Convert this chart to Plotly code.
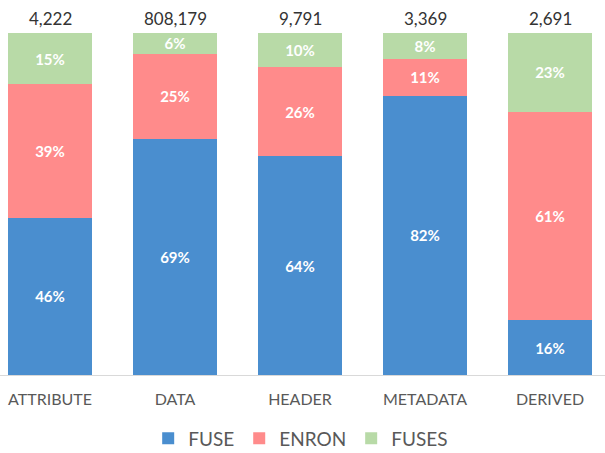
import plotly.graph_objects as go

categories = ["ATTRIBUTE", "DATA", "HEADER", "METADATA", "DERIVED"]
totals = ["4,222", "808,179", "9,791", "3,369", "2,691"]
fuse = [46, 69, 64, 81.6, 16]
enron = [39, 25, 26, 10.8, 61]
fuses = [15, 6, 10, 7.6, 23]

series = [("FUSE", fuse, "#4A8ECF"), ("ENRON", enron, "#FF8B8B"), ("FUSES", fuses, "#B8DAA7")]

FONT = "Lato"

fig = go.Figure()
for name, vals, color in series:
    fig.add_trace(go.Bar(
        x=categories, y=vals, name=name,
        marker=dict(color=color, line=dict(width=0)),
        width=0.672,
        text=[f"{round(v)}%" for v in vals],
        textposition="inside", insidetextanchor="middle",
        textangle=0, constraintext="none",
        textfont=dict(family=FONT, size=15, color="white", weight="bold"),
        hoverinfo="skip",
    ))

for c, t in zip(categories, totals):
    fig.add_annotation(x=c, y=100, text=t, showarrow=False, yanchor="bottom",
                       yshift=2, font=dict(family=FONT, size=17, color="#333333"))

fig.update_layout(
    barmode="stack",
    width=605, height=453,
    margin=dict(l=0, r=0, t=33, b=78, autoexpand=False),
    paper_bgcolor="white", plot_bgcolor="white",
    showlegend=True,
    legend=dict(orientation="h", x=0.497, xanchor="center", xref="container",
                y=0.032, yanchor="middle", yref="container",
                font=dict(family=FONT, size=19, color="#595959"), traceorder="normal",
                itemclick=False),
    xaxis=dict(range=[-0.4, 4.44], showgrid=False, showline=True, linecolor="#D9D9D9",
               linewidth=1, ticks="", tickfont=dict(family=FONT, size=16, color="#595959"),
               ticklabelstandoff=10, fixedrange=True),
    yaxis=dict(range=[0, 100], visible=False, fixedrange=True),
)

fig.write_html("out.html")
